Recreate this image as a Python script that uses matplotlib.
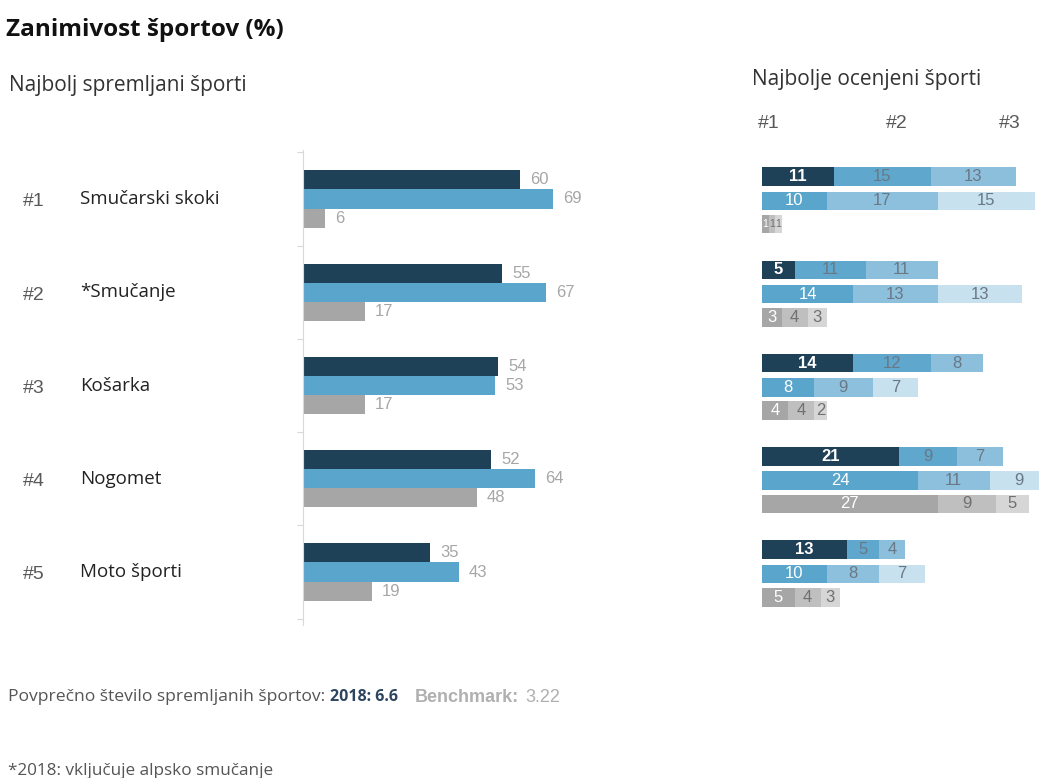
import matplotlib.pyplot as plt
from matplotlib.transforms import blended_transform_factory

# podatki - najbolj spremljani sporti (%)
sporti = ["Smučarski skoki", "*Smučanje", "Košarka", "Nogomet", "Moto športi"]
rangi = ["#1", "#2", "#3", "#4", "#5"]
spremljanje_a = [60, 55, 54, 52, 35]
spremljanje_b = [69, 67, 53, 64, 43]
spremljanje_bench = [6, 17, 17, 48, 19]

# najbolje ocenjeni sporti: #1, #2, #3 za vsako vrstico
ocena_a = [[11, 15, 13], [5, 11, 11], [14, 12, 8], [21, 9, 7], [13, 5, 4]]
ocena_b = [[10, 17, 15], [14, 13, 13], [8, 9, 7], [24, 11, 9], [10, 8, 7]]
ocena_bench = [[1, 1, 1], [3, 4, 3], [4, 4, 2], [27, 9, 5], [5, 4, 3]]

W, H = 1039, 778
def fx(p):
    return p / W
def fy(p):
    return 1 - p / H

temna = "#1f4158"
modra = "#5aa5cb"
siva = "#a6a6a6"

fig = plt.figure(figsize=(W / 100, H / 100), dpi=100)

# naslovi
fig.text(fx(6), fy(30), "Zanimivost športov (%)", fontsize=17.5, fontweight="bold",
         family="Open Sans", color="#111111", va="center")
fig.text(fx(9), fy(86), "Najbolj spremljani športi", fontsize=15,
         family="Open Sans", color="#333333", va="center")
fig.text(fx(752), fy(79), "Najbolje ocenjeni športi", fontsize=15,
         family="Open Sans", color="#333333", va="center")
for lab, x in zip(["#1", "#2", "#3"], [758, 886, 999]):
    fig.text(fx(x), fy(124), lab, fontsize=14, family="Liberation Sans",
             color="#595959", va="center")

# levi graf
top, bot = 150, 625
ax = fig.add_axes([fx(303), fy(bot), 300 / W, (bot - top) / H])
ax.set_xlim(0, 300 / 3.62)
ax.set_ylim(4 + (bot - 572) / 93.3, -(199 - top) / 93.3)
ax.patch.set_alpha(0)

h = 0.205
y = list(range(len(sporti)))
for vals, off, col in [(spremljanje_a, -h, temna), (spremljanje_b, 0, modra),
                       (spremljanje_bench, h, siva)]:
    ypos = [i + off for i in y]
    ax.barh(ypos, vals, height=h, color=col, linewidth=0)
    for yy, v in zip(ypos, vals):
        ax.text(v + 2.8, yy, str(v), fontsize=12, family="Liberation Sans",
                color="#a6a6a6", va="center")

for s in ["top", "right", "bottom"]:
    ax.spines[s].set_visible(False)
ax.spines["left"].set_color("#d9d9d9")
ax.set_xticks([])
ax.set_yticks([i - 0.5 for i in range(len(sporti) + 1)])
ax.set_yticklabels([])
ax.tick_params(axis="y", length=4, color="#d9d9d9")

tr = blended_transform_factory(fig.transFigure, ax.transData)
for i, (r, s) in enumerate(zip(rangi, sporti)):
    ax.text(fx(23), i + 0.03, r, transform=tr, fontsize=14, family="Liberation Sans",
            color="#595959", va="center")
    ax.text(fx(80), i, s, transform=tr, fontsize=13.5, family="Open Sans",
            color="#222222", va="center")

# desni graf - zlozeni stolpci
ax2 = fig.add_axes([fx(762), fy(bot), (W - 762) / W, (bot - top) / H])
ax2.set_xlim(0, (W - 762) / 6.5)
ax2.set_ylim(ax.get_ylim())
ax2.axis("off")

vrstice = [
    (ocena_a, -0.24, [temna, "#5fa7cd", "#8cbfdc"], "#6a7886"),
    (ocena_b, 0.02, [modra, "#8cc0dd", "#c7e1ef"], "#6a7886"),
    (ocena_bench, 0.27, ["#a6a6a6", "#bfbfbf", "#d6d6d6"], "#707070"),
]
for data, off, cols, tcol in vrstice:
    for i, segs in enumerate(data):
        left = 0
        for k, v in enumerate(segs):
            ax2.barh(i + off, v, left=left, height=0.2, color=cols[k], linewidth=0)
            ax2.text(left + v / 2, i + off, str(v), fontsize=12 if v > 1 else 7.5,
                     family="Liberation Sans", ha="center", va="center",
                     color="white" if k == 0 else tcol,
                     fontweight="bold" if (k == 0 and off < 0) else "normal")
            left += v

# noga
fig.text(fx(8), fy(697), "Povprečno število spremljanih športov:", fontsize=12.6,
         family="Open Sans", color="#555555", va="center")
fig.text(fx(330), fy(697), "2018: 6.6", fontsize=11.5, family="Open Sans",
         fontweight="bold", color="#2e4560", va="center")
fig.text(fx(415), fy(697), "Benchmark:", fontsize=13, family="Liberation Sans",
         fontweight="bold", color="#b0b0b0", va="center")
fig.text(fx(525), fy(697), "3.22", fontsize=13, family="Liberation Sans",
         color="#b0b0b0", va="center")

fig.text(fx(8), fy(771), "*2018: vključuje alpsko smučanje", fontsize=12.3,
         family="Open Sans", color="#555555", va="center")

fig.savefig("out.png", dpi=100)
